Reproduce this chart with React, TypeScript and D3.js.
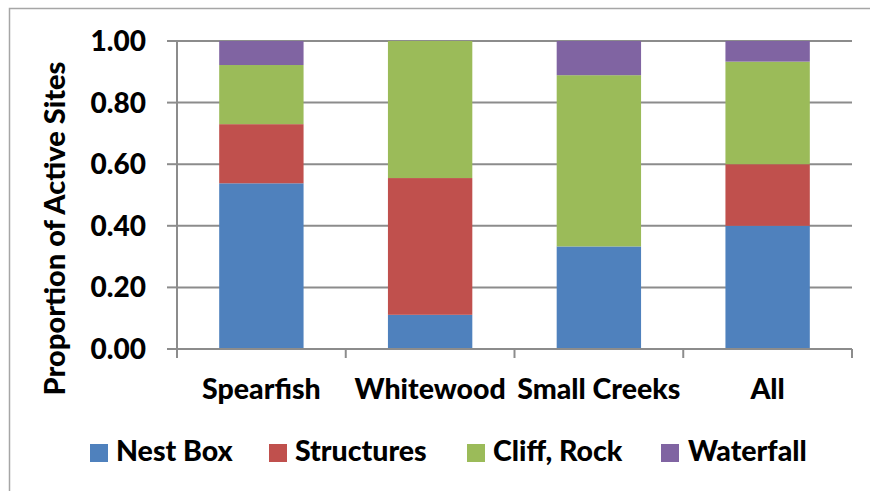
import React from "react";
import * as d3 from "d3";

const categories = ["Spearfish", "Whitewood", "Small Creeks", "All"];
const seriesNames = ["Nest Box", "Structures", "Cliff, Rock", "Waterfall"];
const nestBox = [0.538, 0.111, 0.333, 0.4];
const structures = [0.192, 0.444, 0, 0.2];
const cliffRock = [0.192, 0.445, 0.556, 0.333];
const waterfall = [0.078, 0, 0.111, 0.067];
const yTicks = [0, 0.2, 0.4, 0.6, 0.8, 1.0];
const colors = ["#4F81BD", "#C0504D", "#9BBB59", "#8064A2"];

const W = 870;
const H = 491;
const plot = { left: 177, right: 852, top: 41, bottom: 349 };
const FONT = "Lato, 'Open Sans', sans-serif";

export default function App() {
  const x = d3
    .scaleBand<string>()
    .domain(categories)
    .range([plot.left, plot.right])
    .paddingInner(0.5)
    .paddingOuter(0.25);
  const y = d3.scaleLinear().domain([0, 1]).range([plot.bottom, plot.top]);

  const rows = categories.map((c, i) => ({
    cat: c,
    "Nest Box": nestBox[i],
    Structures: structures[i],
    "Cliff, Rock": cliffRock[i],
    Waterfall: waterfall[i],
  }));
  const stacked = d3.stack<any>().keys(seriesNames)(rows);
  const band = (plot.right - plot.left) / categories.length;
  const boundaries = d3.range(categories.length + 1).map((i) => plot.left + i * band);

  const legendItems = [
    { x: 90, tx: 116 },
    { x: 269, tx: 295 },
    { x: 467, tx: 493 },
    { x: 661, tx: 688 },
  ];

  return (
    <svg width={W} height={H} style={{ position: "absolute", left: 0, top: 0 }}>
      <rect x={0} y={0} width={W} height={H} fill="#fff" />
      <rect x={9.5} y={8.5} width={W + 20} height={H + 20} fill="none" stroke="#a6a6a6" strokeWidth={1.5} />
      {/* gridlines */}
      {yTicks.map((t) => (
        <line key={t} x1={plot.left} x2={plot.right} y1={y(t)} y2={y(t)} stroke="#8c8c8c" strokeWidth={2} />
      ))}
      {/* bars */}
      {stacked.map((layer, si) => (
        <g key={si} fill={colors[si]}>
          {layer.map((d, i) =>
            d[1] - d[0] > 0 ? (
              <rect
                key={i}
                x={x(categories[i])}
                width={x.bandwidth()}
                y={y(d[1])}
                height={y(d[0]) - y(d[1])}
              />
            ) : null
          )}
        </g>
      ))}
      {/* axes */}
      <line x1={plot.left} x2={plot.left} y1={plot.top} y2={plot.bottom + 9} stroke="#8c8c8c" strokeWidth={2} />
      <line x1={plot.left} x2={plot.right} y1={plot.bottom} y2={plot.bottom} stroke="#8c8c8c" strokeWidth={2} />
      {yTicks.map((t) => (
        <line key={t} x1={plot.left - 10} x2={plot.left} y1={y(t)} y2={y(t)} stroke="#8c8c8c" strokeWidth={2} />
      ))}
      {boundaries.map((bx, i) => (
        <line key={i} x1={bx} x2={bx} y1={plot.bottom} y2={plot.bottom + 9} stroke="#8c8c8c" strokeWidth={2} />
      ))}
      {yTicks.map((t) => (
        <text
          key={t}
          x={146}
          y={y(t)}
          dy="0.36em"
          textAnchor="end"
          fontFamily={FONT}
          fontWeight={900}
          fontSize={28}
        >
          {d3.format(".2f")(t)}
        </text>
      ))}
      {categories.map((c) => (
        <text
          key={c}
          x={(x(c) as number) + x.bandwidth() / 2}
          y={399}
          textAnchor="middle"
          fontFamily={FONT}
          fontWeight={900}
          fontSize={28.5}
        >
          {c}
        </text>
      ))}
      <text
        transform={`translate(65,228.5) rotate(-90)`}
        textAnchor="middle"
        fontFamily={FONT}
        fontWeight={900}
        fontSize={29}
      >
        Proportion of Active Sites
      </text>
      {/* legend */}
      {seriesNames.map((s, i) => (
        <g key={s}>
          <rect x={legendItems[i].x} y={444} width={18} height={18} fill={colors[i]} />
          <text x={legendItems[i].tx} y={461} fontFamily={FONT} fontWeight={900} fontSize={28.5}>
            {s}
          </text>
        </g>
      ))}
    </svg>
  );
}
